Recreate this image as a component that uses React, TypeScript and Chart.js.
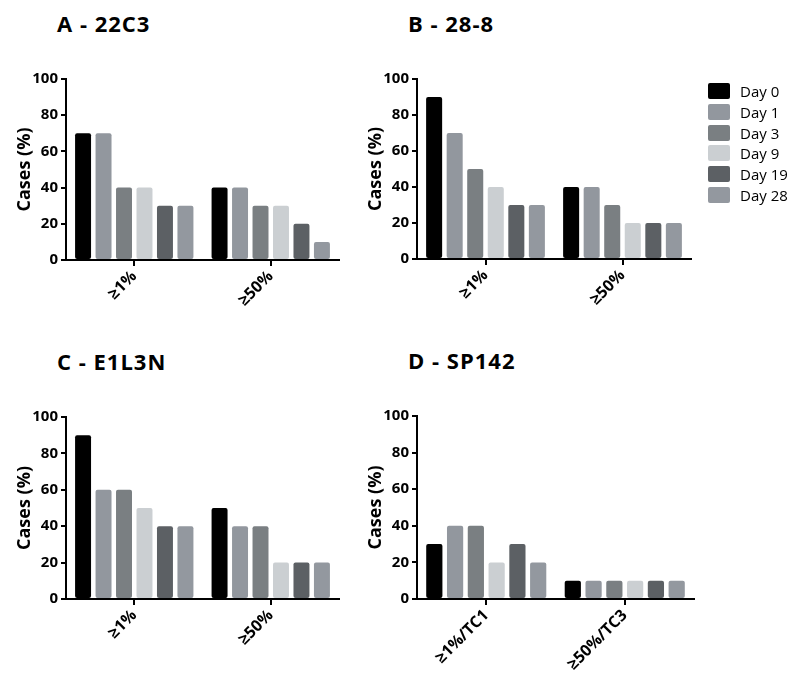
import React, { useEffect, useRef } from 'react';
import { Chart, registerables } from 'chart.js';

Chart.register(...registerables);

// ---- data ----
const days = ['Day 0', 'Day 1', 'Day 3', 'Day 9', 'Day 19', 'Day 28'];
const catsPct = ['≥1%', '≥50%'];
const catsSP142 = ['≥1%/TC1', '≥50%/TC3'];
const yTicks = [0, 20, 40, 60, 80, 100];

const a22C3Ge1 = [70, 70, 40, 40, 30, 30];
const a22C3Ge50 = [40, 40, 30, 30, 20, 10];
const b288Ge1 = [90, 70, 50, 40, 30, 30];
const b288Ge50 = [40, 40, 30, 20, 20, 20];
const cE1L3NGe1 = [90, 60, 60, 50, 40, 40];
const cE1L3NGe50 = [50, 40, 40, 20, 20, 20];
const dSP142Tc1 = [30, 40, 40, 20, 30, 20];
const dSP142Tc3 = [10, 10, 10, 10, 10, 10];

// ---- styles ----
const dayColors = ['#000000', '#92979e', '#7a7f82', '#cbcfd2', '#5c6064', '#93989f'];
const FONT = "'Open Sans', 'DejaVu Sans', sans-serif";

type PanelCfg = {
  title: string;
  categories: string[];
  series: number[][];
  left: number;
  top: number;
  w: number;
  h: number;
  plotTop: number;
  plotBottom: number;
  plotRight: number;
  titleLeft: number;
  titleTop: number;
};

const panels: PanelCfg[] = [
  { title: 'A - 22C3', categories: catsPct, series: [a22C3Ge1, a22C3Ge50], left: 0, top: 0, w: 351, h: 340, plotTop: 79, plotBottom: 260, plotRight: 339, titleLeft: 57, titleTop: 8 },
  { title: 'B - 28-8', categories: catsPct, series: [b288Ge1, b288Ge50], left: 351, top: 0, w: 449, h: 340, plotTop: 79, plotBottom: 259, plotRight: 340, titleLeft: 408, titleTop: 8 },
  { title: 'C - E1L3N', categories: catsPct, series: [cE1L3NGe1, cE1L3NGe50], left: 0, top: 340, w: 351, h: 344, plotTop: 77, plotBottom: 259, plotRight: 339, titleLeft: 57, titleTop: 346 },
  { title: 'D - SP142', categories: catsSP142, series: [dSP142Tc1, dSP142Tc3], left: 351, top: 340, w: 449, h: 344, plotTop: 76, plotBottom: 259, plotRight: 343, titleLeft: 408, titleTop: 345 },
];

function Panel({ cfg }: { cfg: PanelCfg }) {
  const ref = useRef<HTMLCanvasElement>(null);
  useEffect(() => {
    if (!ref.current) return;
    const chart = new Chart(ref.current, {
      type: 'bar',
      data: {
        labels: cfg.categories,
        datasets: days.map((d, i) => ({
          label: d,
          data: cfg.series.map((s) => s[i]),
          backgroundColor: dayColors[i],
          borderRadius: 2,
          borderSkipped: false,
          categoryPercentage: 0.9,
          barPercentage: 0.78,
        })),
      },
      options: {
        animation: false,
        responsive: false,
        events: [],
        layout: { padding: { left: 0, top: cfg.plotTop, right: cfg.w - cfg.plotRight, bottom: 0 } },
        plugins: { legend: { display: false }, tooltip: { enabled: false }, title: { display: false } },
        scales: {
          x: {
            z: 1,
            grid: { display: true, drawOnChartArea: false, drawTicks: true, tickLength: 6, lineWidth: 2, color: '#000', offset: false },
            border: { display: true, color: '#000', width: 2 },
            ticks: { color: '#000', font: { family: FONT, weight: 'bold', size: 16 }, minRotation: 45, maxRotation: 45, padding: 1 },
            afterFit: (s: any) => { s.height = cfg.h - cfg.plotBottom; },
          },
          y: {
            z: 1,
            min: 0,
            max: 100,
            afterBuildTicks: (s: any) => { s.ticks = yTicks.map((v) => ({ value: v })); },
            grid: { display: true, drawOnChartArea: false, drawTicks: true, tickLength: 5, lineWidth: 2, color: '#000' },
            border: { display: true, color: '#000', width: 2 },
            ticks: { color: '#000', font: { family: FONT, weight: 'bold', size: 15 }, padding: 3 },
            title: { display: true, text: 'Cases (%)', color: '#000', font: { family: FONT, weight: 'bold', size: 18 }, padding: { top: 14, bottom: 0 } },
            afterFit: (s: any) => { s.width = 66; },
          },
        },
      } as any,
    });
    return () => chart.destroy();
  }, [cfg]);
  return (
    <canvas
      ref={ref}
      width={cfg.w}
      height={cfg.h}
      style={{ position: 'absolute', left: cfg.left, top: cfg.top, width: cfg.w, height: cfg.h }}
    />
  );
}

export default function App() {
  return (
    <div style={{ position: 'absolute', left: 0, top: 0, width: 800, height: 684, background: '#fff', overflow: 'hidden' }}>
      {panels.map((p) => (
        <div
          key={'t' + p.title}
          style={{ position: 'absolute', left: p.titleLeft, top: p.titleTop, fontFamily: FONT, fontWeight: 'bold', fontSize: 22, letterSpacing: 1, lineHeight: '30px', color: '#000', whiteSpace: 'nowrap' }}
        >
          {p.title}
        </div>
      ))}
      {panels.map((p) => (
        <Panel key={p.title} cfg={p} />
      ))}
      <div style={{ position: 'absolute', left: 708, top: 83 }}>
        {days.map((d, i) => (
          <div key={d} style={{ display: 'flex', alignItems: 'center', height: 16, marginBottom: 4.8 }}>
            <span style={{ display: 'inline-block', width: 22, height: 16, background: dayColors[i], borderRadius: 2 }} />
            <span style={{ marginLeft: 10, fontFamily: FONT, fontSize: 15, color: '#000', lineHeight: '16px', whiteSpace: 'nowrap' }}>{d}</span>
          </div>
        ))}
      </div>
    </div>
  );
}
